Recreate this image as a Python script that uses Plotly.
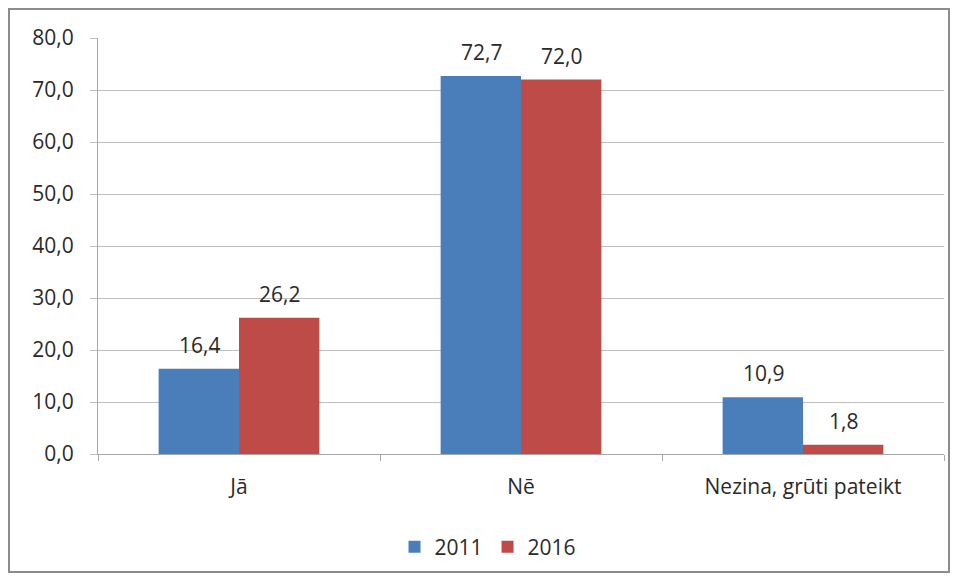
import plotly.graph_objects as go

categories = ["Jā", "Nē", "Nezina, grūti pateikt"]
series_names = ["2011", "2016"]
values_2011 = [16.4, 72.7, 10.9]
values_2016 = [26.2, 72.0, 1.8]
y_ticks = [0, 10, 20, 30, 40, 50, 60, 70, 80]

colors = ["#4A7EBB", "#BE4B48"]
font = "'Open Sans', sans-serif"
txt = "#2A2A2A"
fs = 21

fig = go.Figure()
for name, vals, col in zip(series_names, [values_2011, values_2016], colors):
    fig.add_trace(go.Bar(
        x=categories, y=vals, name=name, marker=dict(color=col, line=dict(width=0)),
    ))

# data labels above each bar (offset half a bar width left/right within the group)
for vals, shift in zip([values_2011, values_2016], [-40, 40]):
    for c, v in zip(categories, vals):
        fig.add_annotation(x=c, y=v, text=f"{v:.1f}".replace(".", ","),
                           showarrow=False, xshift=shift, yshift=8, yanchor="bottom",
                           font=dict(family=font, size=fs, color=txt))

# page body has an 8px offset; figure coordinates below are page - 8
W, H = 950, 571
l, r, t, b = 90, 14, 30, 125
pw, ph = W - l - r, H - t - b

def px(x):
    return (x - l) / pw

def py(y):
    return (H - b - y) / ph

fig.add_shape(type="rect", xref="paper", yref="paper",
              x0=px(1), x1=px(941), y0=py(564), y1=py(1),
              line=dict(color="#8C8C8C", width=2), fillcolor="rgba(0,0,0,0)", layer="below")

fig.update_layout(
    width=W, height=H, margin=dict(l=l, r=r, t=t, b=b),
    paper_bgcolor="white", plot_bgcolor="white",
    barmode="group", bargap=0.43, bargroupgap=0,
    separators=",.",
    font=dict(family=font, size=fs, color=txt),
    showlegend=True,
    legend=dict(orientation="h", x=px(480), xanchor="center", y=py(539), yanchor="middle",
                font=dict(family=font, size=fs, color=txt), itemwidth=30,
                traceorder="normal"),
    xaxis=dict(showline=True, linecolor="#A6A6A6", linewidth=1, ticks="outside",
               tickson="boundaries", ticklen=6, tickcolor="#A6A6A6",
               ticklabelstandoff=14,
               tickfont=dict(family=font, size=fs, color=txt)),
    yaxis=dict(range=[0, 80], tickvals=y_ticks, tickformat=".1f",
               showgrid=True, gridcolor="#BFBFBF", gridwidth=1,
               showline=True, linecolor="#A6A6A6", linewidth=1,
               ticks="outside", ticklen=7, tickcolor="#BFBFBF",
               ticklabelstandoff=12,
               zeroline=False,
               tickfont=dict(family=font, size=fs, color=txt)),
)

fig.write_html("out.html")
